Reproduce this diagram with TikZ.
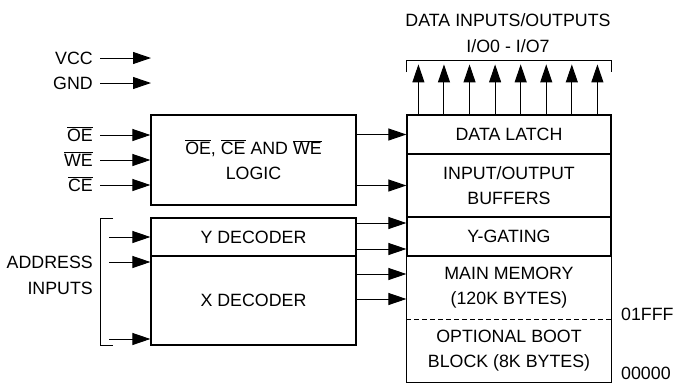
\documentclass[tikz,border=0pt]{standalone}
\usepackage{fontspec}
\setmainfont{Liberation Sans}
\usetikzlibrary{arrows.meta}
\newcommand{\ovl}[1]{$\overline{\mbox{#1}}$}
\begin{document}
\begin{tikzpicture}[x=1pt,y=-1pt,
  every node/.style={font=\fontsize{17.8}{25.5}\selectfont},
  blk/.style={draw, line width=1.2pt, minimum width=205pt, inner sep=0pt, align=center},
  lbl/.style={inner sep=0pt, text height=12.6pt, text depth=0pt},
  arr/.style={line width=1pt, -{Triangle[length=18pt,width=12pt]}},
  wire/.style={line width=1pt}]
\useasboundingbox (0,0) rectangle (673,384);

% left blocks
\node[blk, minimum height=90pt] (logic) at (253.5,160) {\ovl{OE}, \ovl{CE} AND \ovl{WE}\\LOGIC};
\node[blk, minimum height=38pt] (ydec) at (253.5,237) {Y DECODER};
\node[blk, minimum height=89pt] (xdec) at (253.5,300.5) {X DECODER};

% right column
\node[blk, minimum width=204pt, minimum height=39pt] (latch) at (509,134.5) {DATA LATCH};
\node[blk, minimum width=204pt, minimum height=63pt] (iobuf) at (509,185.5) {INPUT/OUTPUT\\BUFFERS};
\node[blk, minimum width=204pt, minimum height=39pt] (ygate) at (509,236.5) {Y-GATING};
\node[blk, draw=none, minimum width=204pt, minimum height=63pt] (mem) at (509,287.5) {MAIN MEMORY\\(120K BYTES)};
\node[blk, draw=none, minimum width=204pt, minimum height=63pt] (boot) at (509,350.5) {OPTIONAL BOOT\\BLOCK (8K BYTES)};
\draw[line width=1.2pt] (mem.north west) rectangle (boot.south east);
\draw[line width=1.2pt, dash pattern=on 5pt off 3pt] (mem.south west) -- (mem.south east);

% address labels
\node[lbl, anchor=west] (f1) at (621,314.5) {01FFF};
\node[lbl, anchor=west] (f0) at (621,373.5) {00000};

% title
\node[align=center, inner sep=0pt] (title) at (508,33) {DATA INPUTS/OUTPUTS\\I/O0 - I/O7};

% power inputs
\node[lbl, anchor=east] (vcc) at (93,58) {VCC};
\node[lbl, anchor=east] (gnd) at (93,83) {GND};
\coordinate (vcct) at (151,58);
\coordinate (gndt) at (151,83);
\draw[arr] ([xshift=7pt]vcc.east) -- (vcct);
\draw[arr] ([xshift=7pt]gnd.east) -- (gndt);

% control inputs
\node[lbl, anchor=east] (oe) at (93,135) {\ovl{OE}};
\node[lbl, anchor=east] (we) at (93,160) {\ovl{WE}};
\node[lbl, anchor=east] (ce) at (93,185) {\ovl{CE}};
\draw[arr] ([xshift=7pt]oe.east) -- (oe.east -| logic.west);
\draw[arr] ([xshift=7pt]we.east) -- (we.east -| logic.west);
\draw[arr] ([xshift=7pt]ce.east) -- (ce.east -| logic.west);

% address inputs
\node[anchor=east, align=right, inner sep=0pt] (addr) at (93,275.5) {ADDRESS\\INPUTS};
\coordinate (a1) at (109,237);
\coordinate (a2) at (109,262);
\coordinate (a3) at (109,339);
\draw[arr] (a1) -- (a1 -| ydec.west);
\draw[arr] (a2) -- (a2 -| xdec.west);
\draw[arr] (a3) -- (a3 -| xdec.west);
\draw[wire] (113,218) -| (100,345) -- (113,345);

% internal connections
\draw[arr] (logic.east |- latch.west) -- (latch.west);
\draw[arr] (logic.east |- iobuf.west) -- (iobuf.west);
\coordinate (g1) at ([yshift=13.5pt]ygate.west);
\coordinate (g2) at ([yshift=-12.5pt]ygate.west);
\coordinate (m1) at ([yshift=13.5pt]mem.west);
\coordinate (m2) at ([yshift=-11.5pt]mem.west);
\draw[arr] (g1 -| ydec.east) -- (g1);
\draw[arr] (g2 -| ydec.east) -- (g2);
\draw[arr] (m1 -| xdec.east) -- (m1);
\draw[arr] (m2 -| xdec.east) -- (m2);

% data I/O
\foreach \i in {0,...,7}
  \draw[arr] ([xshift={12pt+25.57pt*\i}]latch.north west) -- ++(0,-50);
\draw[wire] (406,72) -- (406,60) -- (611,60) -- (611,72);
\end{tikzpicture}
\end{document}
